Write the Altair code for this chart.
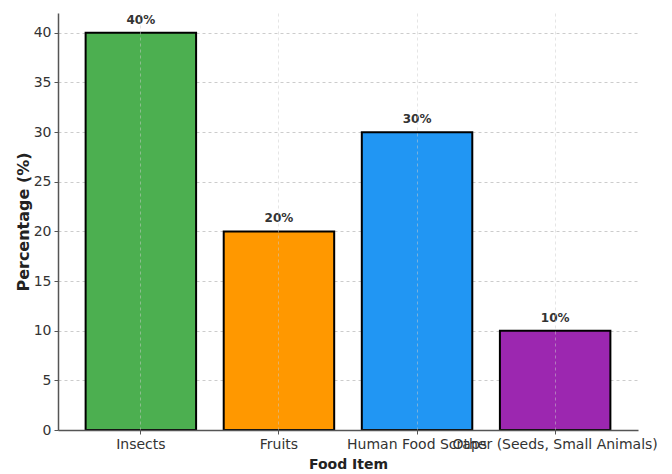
import altair as alt
import pandas as pd

categories = ["Insects", "Fruits", "Human Food Scraps", "Other (Seeds, Small Animals)"]
values = [40, 20, 30, 10]
colors = ["#4CAF50", "#FF9800", "#2196F3", "#9C27B0"]
y_ticks = [0, 5, 10, 15, 20, 25, 30, 35, 40]

df = pd.DataFrame({"Food Item": categories, "Percentage": values, "color": colors})
df["label"] = df["Percentage"].astype(str) + "%"

font = "DejaVu Sans"

x_enc = alt.X(
    "Food Item:N",
    sort=None,
    scale=alt.Scale(paddingInner=0.2, paddingOuter=0.2),
    axis=alt.Axis(
        title="Food Item",
        labelAngle=0,
        labelFontSize=14,
        labelColor="#333333",
        labelFont=font,
        labelOverlap=False,
        labelLimit=0,
        labelPadding=3,
        titleFont=font,
        titleFontSize=14,
        titleFontWeight="bold",
        titleColor="#222222",
        titlePadding=6,
        grid=True,
        gridColor="#cccccc",
        gridDash=[3, 3],
        gridOpacity=0.5,
        bandPosition=0.5,
        domainColor="#555555",
        domainWidth=1.5,
        tickColor="#555555",
        tickSize=4,
        zindex=1,
    ),
)

y_enc = alt.Y(
    "Percentage:Q",
    scale=alt.Scale(domain=[0, 42], nice=False, zero=True),
    axis=alt.Axis(
        title="Percentage (%)",
        values=y_ticks,
        labelFontSize=14,
        labelColor="#333333",
        labelFont=font,
        labelPadding=3,
        titleFont=font,
        titleFontSize=16,
        titleFontWeight="bold",
        titleColor="#222222",
        titlePadding=2,
        grid=True,
        gridColor="#cccccc",
        gridDash=[3, 3],
        domainColor="#555555",
        domainWidth=1.5,
        tickColor="#555555",
        tickSize=4,
    ),
)

base = alt.Chart(df).encode(x=x_enc, y=y_enc)

bars = base.mark_bar(stroke="black", strokeWidth=2).encode(
    color=alt.Color("color:N", scale=None),
)

labels = base.mark_text(
    baseline="bottom", dy=-6, fontSize=12, fontWeight="bold", font=font, color="#333333"
).encode(
    text="label:N",
)

chart = (
    alt.layer(bars, labels)
    .properties(
        width=580,
        height=417,
        padding={"left": 58, "top": 13, "right": 34, "bottom": 44},
        autosize="none",
        background="white",
    )
    .configure_view(stroke=None, strokeWidth=0)
)

chart.save("out.html", embed_options={"renderer": "svg", "actions": False})
